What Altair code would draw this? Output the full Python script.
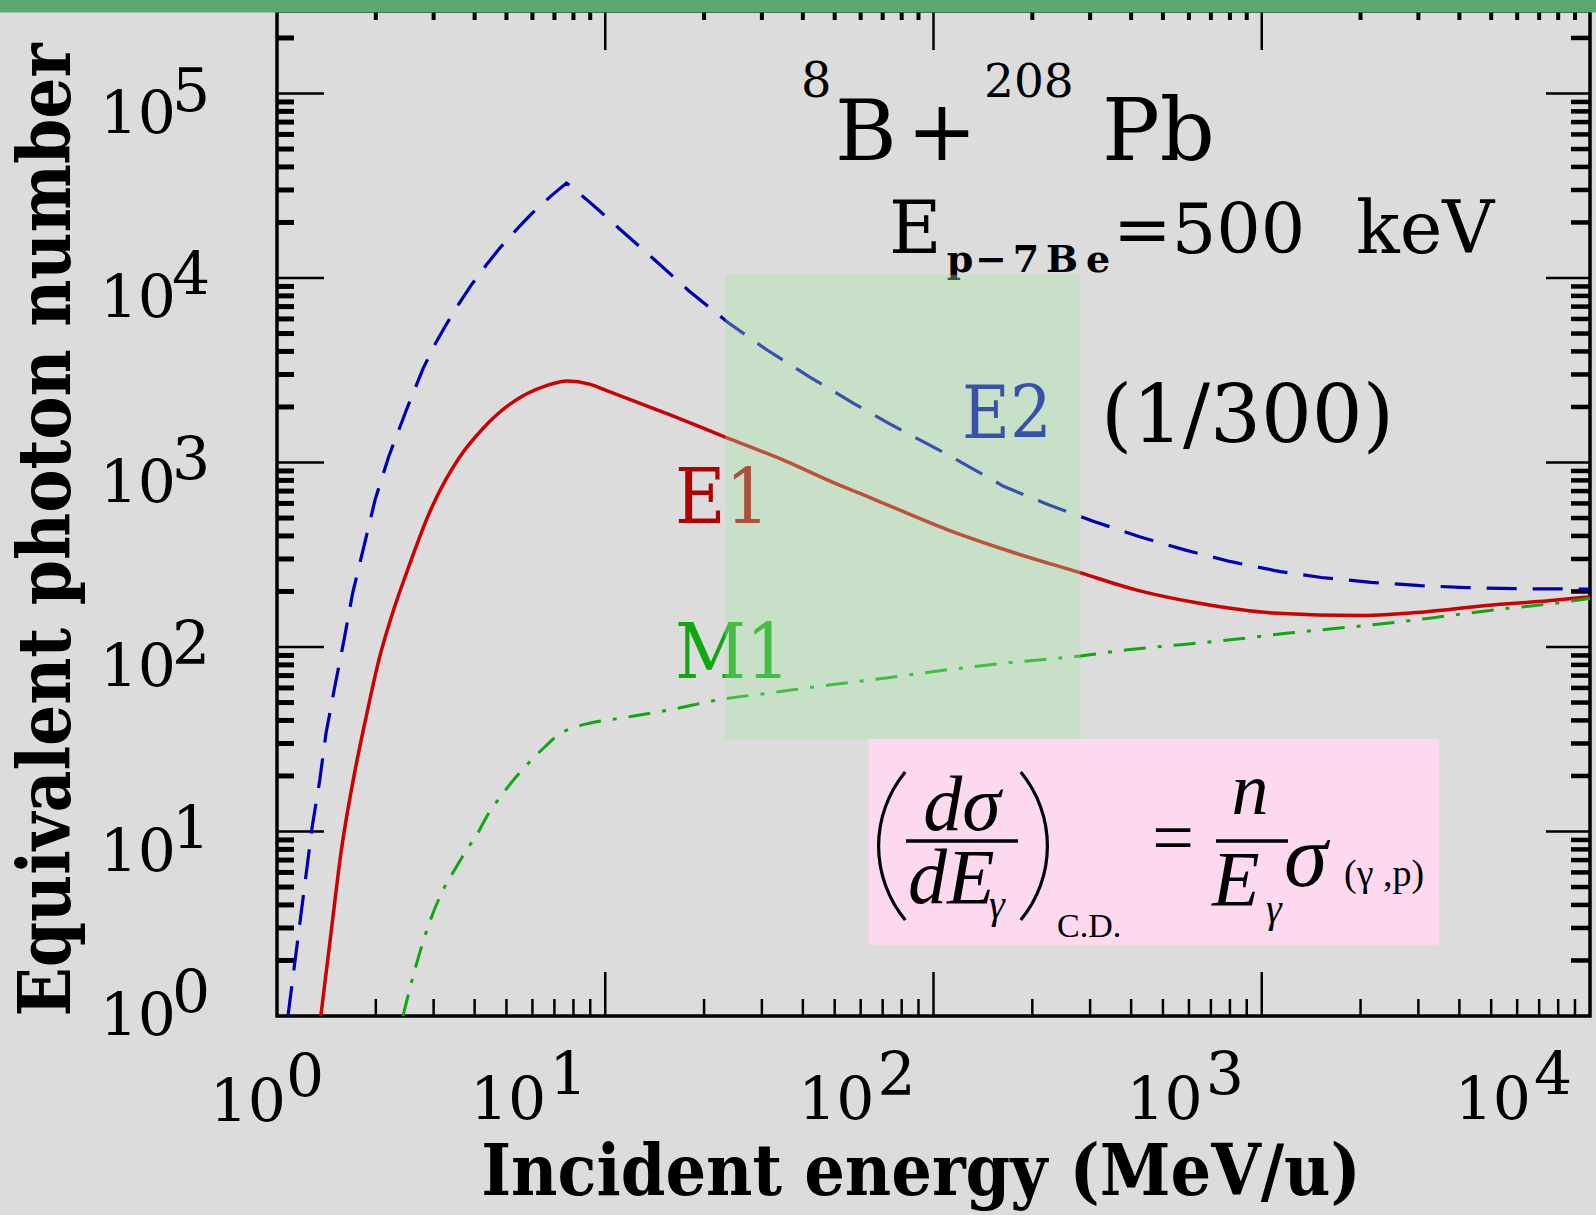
import altair as alt
import pandas as pd
import math

# ---------------- data ----------------
e1_energy = [1.36, 1.46, 1.57, 1.70, 1.87, 2.05, 2.25, 2.48, 2.94, 3.28, 3.59, 4.22, 4.71, 5.69,
             6.65, 7.66, 8.95, 10.1, 15.7, 22.9, 35.6, 48.6, 66.5, 110, 159, 281, 414, 640,
             1076, 2032, 3133, 4842, 7464, 10000]
e1_photons = [1.0, 2.8, 7.9, 18.3, 42, 87, 153, 252, 555, 818, 1062, 1514, 1837, 2328,
              2618, 2767, 2661, 2455, 1816, 1387, 1014, 791, 628, 433, 344, 252, 204, 173,
              153, 148, 155, 168, 178, 187]

e2_energy = [1.08, 1.28, 1.35, 1.41, 1.50, 1.60, 1.70, 1.84, 1.99, 2.19, 2.48, 2.79, 3.06,
             3.27, 3.55, 3.90, 4.34, 4.76, 5.46, 5.98, 6.84, 7.62, 8.71, 9.66, 11.0, 14.1,
             18.0, 23.6, 30.8, 42.1, 57.4, 73.1, 100, 113, 164, 225, 305, 427, 586, 805,
             1140, 1521, 2153, 3048, 4188, 5929, 10000]
e2_photons = [1.0, 10.6, 19, 34, 61, 109, 196, 351, 628, 1079, 1932, 3251, 4519,
              5559, 7079, 9120, 11749, 14454, 18923, 22387, 27861, 32734, 26915, 22909, 18621, 12589,
              8511, 5754, 4121, 2897, 2080, 1629, 1211, 1079, 741, 589, 482, 395, 335, 290,
              256, 238, 224, 215, 210, 207, 206]

m1_energy = [2.42, 2.63, 2.88, 3.16, 3.47, 3.78, 4.09, 4.36, 4.71, 5.42, 5.96, 6.55, 7.19,
             7.91, 8.95, 11.1, 15.7, 22.2, 31.4, 48.6, 70.8, 110, 184, 269, 391, 569, 830,
             1208, 1758, 2559, 3733, 5433, 7047, 10000]
m1_photons = [1.0, 1.78, 3.02, 4.57, 6.17, 7.94, 9.8, 12.1, 14.8, 20.3, 24.4, 28.8, 33.4,
              36.3, 38.6, 41.1, 45.6, 51.8, 56.2, 62.4, 67.8, 75.2, 83.4, 88.7, 96.6, 103, 110,
              119, 127, 136, 148, 161, 169, 183]

highlight_energy = [23.2, 280]      # green band
highlight_photons = [31.3, 10400]
formula_energy = [63.4, 3464]       # pink box
formula_photons = [2.43, 31.7]

x_tick_exponents = ["0", "1", "2", "3", "4"]
y_tick_exponents = ["0", "1", "2", "3", "4", "5"]

# ---------------- geometry ----------------
OX, OY = 277, 11          # plot origin inside the 1596x1215 page
W, H = 1313, 1005

xs = alt.Scale(type="log", domain=[1, 10000], nice=False)
ys = alt.Scale(type="log", domain=[1, 280000], nice=False)

SERIF = "DejaVu Serif"
COND = "DejaVu Serif Condensed"
TIMES = "Liberation Serif"

one = pd.DataFrame({"t": [""]})


def txt(s, x, y, size, font=SERIF, weight="normal", style="normal", color="black",
        align="left", angle=0):
    return alt.Chart(one).mark_text(
        text=s, font=font, fontSize=size, fontWeight=weight, fontStyle=style,
        color=color, align=align, baseline="alphabetic", angle=angle
    ).encode(x=alt.value(x - OX), y=alt.value(y - OY))


def hbar(x1, x2, y, sw=3.5, color="black"):
    return alt.Chart(one).mark_rule(color=color, strokeWidth=sw).encode(
        x=alt.value(x1 - OX), x2=alt.value(x2 - OX), y=alt.value(y - OY))


def paren(edge, cy, half, sag, left=True, sw=3.2):
    r = (half ** 2 + sag ** 2) / (2 * sag)
    a = math.asin(half / r)
    if left:
        cx = edge + r
        t1, t2 = 1.5 * math.pi - a, 1.5 * math.pi + a
    else:
        cx = edge - r
        t1, t2 = 0.5 * math.pi - a, 0.5 * math.pi + a
    return alt.Chart(one).mark_arc(theta=t1, theta2=t2, radius=r, radius2=r - sw,
                                   color="black").encode(
        x=alt.value(cx - OX), y=alt.value(cy - OY))


# ---------------- curves ----------------
def curve(xv, yv, color, width, dash=None, interp="linear"):
    kw = dict(color=color, strokeWidth=width, clip=True, interpolate=interp)
    if dash:
        kw["strokeDash"] = dash
    return alt.Chart(pd.DataFrame({"energy": xv, "n": yv})).mark_line(**kw).encode(
        x=alt.X("energy:Q", scale=xs, axis=None),
        y=alt.Y("n:Q", scale=ys, axis=None),
        order=alt.Order("energy:Q"))


e2_line = curve(e2_energy, e2_photons, "#0000b0", 3.2, [30, 16])
e1_line = curve(e1_energy, e1_photons, "#cc0000", 3.5, interp="monotone")
m1_line = curve(m1_energy, m1_photons, "#10a810", 3.0, [22, 12, 4, 12], interp="monotone")

# ---------------- ticks ----------------
x_major = [10, 100, 1000]
x_minor = [m * 10 ** d for d in range(4) for m in range(2, 10)]
y_major = [10, 100, 1000, 10000, 100000]
y_minor = [m * 10 ** d for d in range(6) for m in range(2, 10) if m * 10 ** d < 280000]


def vticks(vals, y1, y2, sw):
    return alt.Chart(pd.DataFrame({"v": vals})).mark_rule(color="black", strokeWidth=sw).encode(
        x=alt.X("v:Q", scale=xs, axis=None), y=alt.value(y1), y2=alt.value(y2))


def hticks(vals, x1, x2, sw):
    return alt.Chart(pd.DataFrame({"v": vals})).mark_rule(color="black", strokeWidth=sw).encode(
        y=alt.Y("v:Q", scale=ys, axis=None), x=alt.value(x1), x2=alt.value(x2))


ticks = [
    vticks(x_major, H, H - 44, 2.5), vticks(x_minor, H, H - 17, 2.5),
    vticks(x_major, 0, 39, 2.5), vticks(x_minor, 0, 9, 4),
    hticks(y_major, 0, 47, 2.5), hticks(y_minor, 0, 17, 5),
    hticks(y_major, W, W - 44, 2.5), hticks(y_minor, W, W - 19, 4.5),
]

# ---------------- tick labels ----------------
xl = pd.DataFrame({"v": [10 ** int(e) for e in x_tick_exponents[1:]], "e": x_tick_exponents[1:]})
xl0 = pd.DataFrame({"v": [1], "e": x_tick_exponents[:1]})
yl = pd.DataFrame({"v": [10 ** int(e) for e in y_tick_exponents[1:]], "e": y_tick_exponents[1:]})
yl0 = pd.DataFrame({"v": [1], "e": y_tick_exponents[:1]})

LF = SERIF
LS = 60
tick_labels = [
    alt.Chart(xl).mark_text(font=LF, fontSize=LS, align="right", baseline="alphabetic", dx=-59, text="10")
    .encode(x=alt.X("v:Q", scale=xs, axis=None), y=alt.value(1120 - OY)),
    alt.Chart(xl).mark_text(font=LF, fontSize=LS, align="left", baseline="alphabetic", dx=-56)
    .encode(x=alt.X("v:Q", scale=xs, axis=None), y=alt.value(1095 - OY), text="e:N"),
    alt.Chart(xl0).mark_text(font=LF, fontSize=LS, align="right", baseline="alphabetic", dx=9, text="10")
    .encode(x=alt.X("v:Q", scale=xs, axis=None), y=alt.value(1122 - OY)),
    alt.Chart(xl0).mark_text(font=LF, fontSize=LS, align="left", baseline="alphabetic", dx=9)
    .encode(x=alt.X("v:Q", scale=xs, axis=None), y=alt.value(1097 - OY), text="e:N"),
    alt.Chart(yl).mark_text(font=LF, fontSize=LS, align="right", baseline="alphabetic", dy=40, text="10")
    .encode(y=alt.Y("v:Q", scale=ys, axis=None), x=alt.value(176 - OX)),
    alt.Chart(yl).mark_text(font=LF, fontSize=LS, align="left", baseline="alphabetic", dy=17)
    .encode(y=alt.Y("v:Q", scale=ys, axis=None), x=alt.value(172 - OX), text="e:N"),
    alt.Chart(yl0).mark_text(font=LF, fontSize=LS, align="right", baseline="alphabetic", dy=20, text="10")
    .encode(y=alt.Y("v:Q", scale=ys, axis=None), x=alt.value(176 - OX)),
    alt.Chart(yl0).mark_text(font=LF, fontSize=LS, align="left", baseline="alphabetic", dy=-3)
    .encode(y=alt.Y("v:Q", scale=ys, axis=None), x=alt.value(172 - OX), text="e:N"),
]

# ---------------- annotations ----------------
annot = [
    txt("8", 801, 97, 48), txt("B", 835, 160, 84), txt("+", 942, 160, 84, align="center"),
    txt("208", 984, 97, 47), txt("Pb", 1102, 160, 86),
    txt("E", 889, 253, 72),
    txt("p", 960, 272, 38, weight="bold", align="center"),
    txt("\u2212", 991, 272, 38, weight="bold", align="center"),
    txt("7", 1026, 272, 38, weight="bold", align="center"),
    txt("B", 1062, 272, 38, weight="bold", align="center"),
    txt("e", 1098, 272, 38, weight="bold", align="center"),
    txt("=500", 1113, 253, 70), txt("keV", 1356, 253, 72),
    txt("E1", 675, 523, 77, font=COND, color="#b00000"),
    txt("M1", 675, 678, 77, font=COND, color="#10a810"),
    txt("E2", 962, 438, 73, font=COND, color="#0000b0"),
    txt("(1/300)", 1101, 442, 80),
    txt("Incident energy (MeV/u)", 921, 1195, 71, font=COND, weight="bold", align="center"),
    txt("Equivalent photon number", 70, 530, 72, font=COND, weight="bold", align="center", angle=270),
]

band = alt.Chart(pd.DataFrame({"x1": [highlight_energy[0]], "x2": [highlight_energy[1]],
                               "y1": [highlight_photons[0]], "y2": [highlight_photons[1]]})).mark_rect(
    color="#a3e7a3", opacity=0.35).encode(
    x=alt.X("x1:Q", scale=xs, axis=None), x2="x2:Q",
    y=alt.Y("y1:Q", scale=ys, axis=None), y2="y2:Q")

box = alt.Chart(pd.DataFrame({"x1": [formula_energy[0]], "x2": [formula_energy[1]],
                              "y1": [formula_photons[0]], "y2": [formula_photons[1]]})).mark_rect(
    color="#fdd9f0").encode(
    x=alt.X("x1:Q", scale=xs, axis=None), x2="x2:Q",
    y=alt.Y("y1:Q", scale=ys, axis=None), y2="y2:Q")

formula = [
    paren(877, 846, 75, 27, left=True),
    paren(1049, 846, 75, 27, left=False),
    txt("d\u03c3", 962, 830, 78, font=TIMES, style="italic", align="center"),
    hbar(906, 1018, 841),
    txt("dE", 908, 903, 78, font=TIMES, style="italic"),
    txt("\u03b3", 989, 918, 40, font=TIMES, style="italic"),
    txt("C.D.", 1057, 937, 34, font=TIMES),
    txt("=", 1173, 862, 74, font=TIMES, align="center"),
    txt("n", 1250, 814, 74, font=TIMES, style="italic", align="center"),
    hbar(1216, 1288, 841),
    txt("E", 1212, 905, 78, font=TIMES, style="italic"),
    txt("\u03b3", 1266, 922, 40, font=TIMES, style="italic"),
    txt("\u03c3", 1284, 886, 88, font=TIMES, style="italic"),
    txt("(\u03b3 ,p)", 1344, 886, 38, font=TIMES),
]

topbar = alt.Chart(one).mark_rect(color="#5aa96e").encode(
    x=alt.value(-OX), x2=alt.value(1596 - OX), y=alt.value(-OY), y2=alt.value(1.5))

chart = alt.layer(
    *ticks, e2_line, e1_line, m1_line, *annot, band, box, *formula, *tick_labels, topbar
).properties(
    width=W, height=H,
    padding={"left": OX, "top": OY, "right": 1596 - OX - W, "bottom": 1215 - OY - H},
    autosize=alt.AutoSizeParams(type="none"),
    background="#dcdcdc",
).configure_view(stroke="black", strokeWidth=3.5)

chart.save("out.html", embed_options={"renderer": "svg", "actions": False})
